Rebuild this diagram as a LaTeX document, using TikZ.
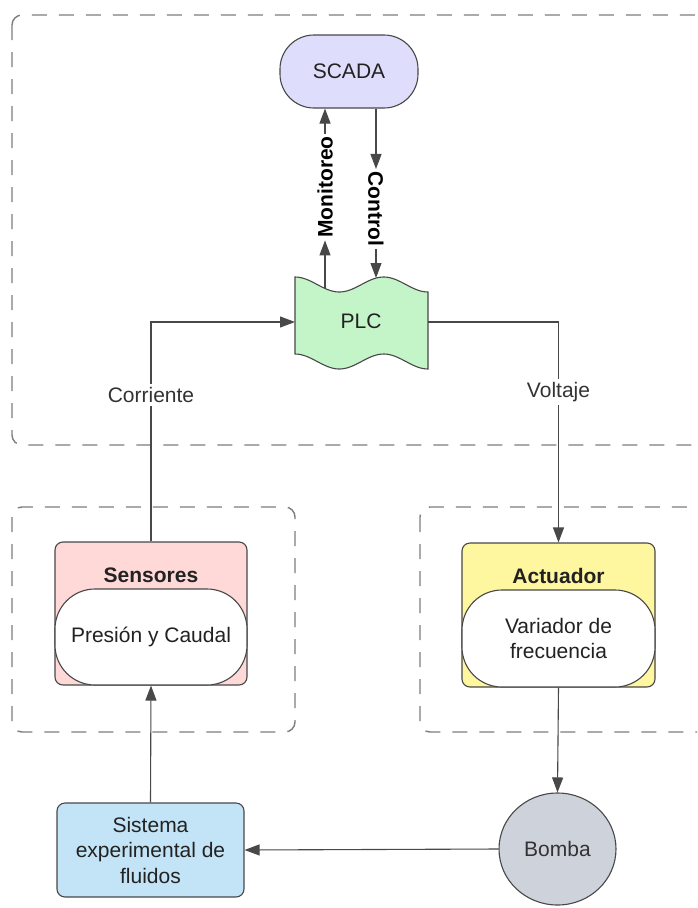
\documentclass[tikz,border=0pt]{standalone}
\usepackage{fontspec}
\setmainfont{Liberation Sans}
\usetikzlibrary{arrows.meta,shapes.geometric}

\definecolor{edge}{RGB}{72,72,72}
\definecolor{frame}{RGB}{125,125,125}
\definecolor{scadafill}{RGB}{222,222,252}
\definecolor{plcfill}{RGB}{196,245,200}
\definecolor{sensfill}{RGB}{255,216,216}
\definecolor{actfill}{RGB}{255,246,160}
\definecolor{sisfill}{RGB}{194,228,246}
\definecolor{bombafill}{RGB}{206,210,218}
\definecolor{txt}{RGB}{34,34,34}
\definecolor{lbltxt}{RGB}{51,51,51}

\tikzset{
  basefont/.style={font=\fontsize{21}{25.5}\selectfont, text=txt},
  groupframe/.style={draw=frame, line width=1.4pt, dash pattern=on 15pt off 12pt, rounded corners=10pt},
  box/.style={draw=edge, line width=1.1pt, inner sep=0pt, rounded corners=8pt, basefont},
  pill/.style={box, fill=white, rounded corners=40pt, align=center},
  title/.style={basefont, font=\fontsize{21}{25}\selectfont\bfseries, inner sep=0pt},
  lbl/.style={basefont, text=lbltxt, fill=white, inner sep=3pt},
  vlbl/.style={basefont, font=\fontsize{21}{25}\selectfont\bfseries, text=black, inner sep=2.5pt},
  arr/.style={draw=edge, line width=1.1pt, -{Triangle[length=15pt,width=11pt]}},
}

\begin{document}
\begin{tikzpicture}[x=1pt,y=-1pt]
\clip (0,0) rectangle (697,908);
\fill[white] (0,0) rectangle (697,908);

% group frames
\draw[groupframe] (12,15) rectangle (745,445);
\draw[groupframe] (12,507) rectangle (295,732);
\draw[groupframe] (420,507) rectangle (745,732);

% SCADA
\node[box, fill=scadafill, rounded corners=34pt, minimum width=138pt, minimum height=73pt]
  (scada) at (349,71.5) {SCADA};

% PLC (punched tape)
\filldraw[draw=edge, line width=1.1pt, fill=plcfill]
  plot[domain=0:1, samples=50] ({295+133*\x}, {277+7.5*(1-cos(540*\x))})
  -- plot[domain=1:0, samples=50] ({295+133*\x}, {354+7.5*(1-cos(540*\x))})
  -- cycle;
\node[basefont, inner sep=0pt] (plc) at (361,321) {PLC};
\coordinate (plcW) at (295,322);
\coordinate (plcE) at (428,322);
\coordinate (plcM) at (325,288.5);
\coordinate (plcC) at (376,278);

% Sensores
\node[box, fill=sensfill, minimum width=192pt, minimum height=143pt] (sens) at (151,613.5) {};
\node[pill, minimum width=192pt, minimum height=96pt] (sensin) at (151,637) {Presión y Caudal};
\node[title] (senst) at (151,575) {Sensores};

% Actuador
\node[box, fill=actfill, minimum width=193pt, minimum height=144pt] (act) at (558.5,615) {};
\node[pill, minimum width=193pt, minimum height=97pt] (actin) at (558.5,638.5) {Variador de\\frecuencia};
\node[title] (actt) at (558.5,576) {Actuador};

% Sistema experimental
\node[box, fill=sisfill, minimum width=187pt, minimum height=94pt, align=center]
  (sis) at (150.5,850) {Sistema\\experimental de\\fluidos};

% Bomba
\node[draw=edge, line width=1.1pt, fill=bombafill, ellipse, minimum width=117pt,
  minimum height=112pt, inner sep=0pt, basefont, text=lbltxt] (bomba) at (557.5,849) {Bomba};

% SCADA <-> PLC
\node[vlbl, rotate=90] (mon) at (325,187) {Monitoreo};
\node[vlbl, rotate=-90] (ctl) at (376,209) {Control};
\draw[arr] (plcM) -- (mon.west);
\draw[arr] (mon.east) -- (mon.east |- scada.south);
\draw[arr] (ctl.west |- scada.south) -- (ctl.west);
\draw[arr] (ctl.east) -- (plcC);

% signal loops
\draw[arr] (sens.north) |- (plcW);
\node[lbl] (corr) at (151,395) {Corriente};
\draw[arr] (plcE) -| (act.north);
\node[lbl] (volt) at (558.5,392) {Voltaje};

% process loop
\draw[arr] (act.south) -- (bomba.north);
\draw[arr] (bomba.west) -- (sis.east);
\draw[arr] (sis.north) -- (sensin.south);
\end{tikzpicture}
\end{document}
